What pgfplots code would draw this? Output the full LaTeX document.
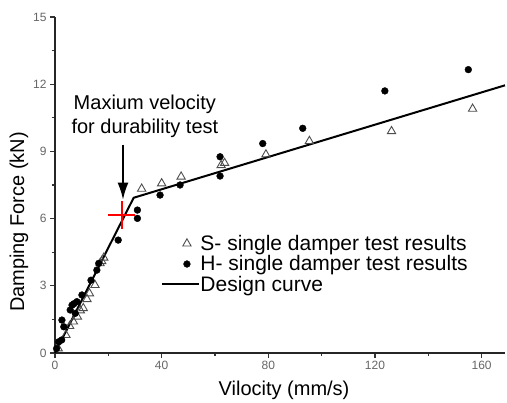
\documentclass[border=0pt]{standalone}
\usepackage{pgfplots}
\pgfplotsset{compat=1.18}
\usepackage{fontspec}
\setmainfont{Liberation Sans}
\usetikzlibrary{arrows.meta}
\begin{document}
\begin{tikzpicture}
\begin{axis}[
  at={(55pt,50pt)}, anchor=south west,
  scale only axis, width=450pt, height=336pt,
  xmin=0, xmax=168.75, ymin=0, ymax=15,
  axis x line=bottom, axis y line=left,
  axis line style={-, line width=1.2pt, black!85},
  xtick={0,40,80,120,160}, ytick={0,3,6,9,12,15},
  minor x tick num=1, minor y tick num=1,
  tick align=outside,
  major tick length=5pt, minor tick length=3pt,
  tick style={line width=1.1pt, black!80},
  /pgf/number format/assume math mode=true,
  ticklabel style={font=\fontsize{12}{14}\selectfont, text=black!60},
  xlabel={Vilocity (mm/s)}, ylabel={Damping Force (kN)},
  label style={font=\fontsize{20}{22}\selectfont},
  xlabel style={at={(axis description cs:0.509,-0.11)}, anchor=center},
  ylabel style={at={(axis description cs:-0.08,0.39)}, anchor=center},
  legend style={at={(axis description cs:0.235,0.357)}, anchor=north west,
    draw=none, fill=none, inner sep=0pt,
    font=\fontsize{21}{22}\selectfont, row sep=-0.3pt,
    nodes={inner xsep=0.5pt}},
  legend cell align=left,
  legend image code/.code={\draw[mark repeat=2,mark phase=2,#1] plot coordinates {(0pt,0pt)(25pt,0pt)(37pt,0pt)};},
  clip=false,
]
\addplot[only marks, mark=triangle, mark size=4.8pt, mark options={draw=black!70, line width=0.9pt, fill=white}] coordinates {
(1.2,0.2)(4.1,0.8)(5.5,1.2)(6.9,1.4)(8.4,1.62)(9.5,1.9)(10.6,2.0)(12.0,2.4)(12.9,2.66)(15,3.03)
(16.9,4.0)(17.5,4.1)(18.3,4.25)(32.5,7.33)(40,7.57)(47.3,7.87)(62.3,8.38)(63.6,8.48)
(79.1,8.86)(95.4,9.46)(126.2,9.9)(156.6,10.9)
};
\addlegendentry{S- single damper test results}
\addplot[only marks, mark=*, mark size=3.4pt, mark options={fill=black, draw=black}] coordinates {
(0.6,0.2)(1.4,0.5)(2.5,0.58)(3.3,1.17)(2.6,1.47)(5.7,1.92)(6.4,2.14)(7.1,2.2)(8.2,2.29)(7.6,1.77)
(10.1,2.59)(13.5,3.25)(15.7,3.7)(16.4,4.0)(23.7,5.04)(30.9,6.38)(30.9,6.01)
(39.4,7.05)(46.9,7.5)(61.9,8.76)(61.9,7.9)(77.9,9.35)(92.9,10.03)(123.7,11.7)(155,12.65)
};
\addlegendentry{H- single damper test results}
\addplot[black, line width=2pt] coordinates {(0,0)(29.5,6.93)(168.75,11.95)};
\addlegendentry{Design curve}
\draw[line width=1.6pt, -{Latex[length=17pt,width=11pt]}] (axis cs:25.5,9.3) -- (axis cs:25.5,6.85);
\addplot[red, line width=1.8pt, forget plot] coordinates {(20,6.17)(30,6.17)};
\addplot[red, line width=1.8pt, forget plot] coordinates {(25,5.55) (25,6.8)};
\node[align=center, font=\fontsize{20}{24}\selectfont] at (axis cs:33.7,10.55) {Maxium velocity\\for durability test};
\end{axis}
\pgfresetboundingbox
\path (0,0) rectangle (507pt,403pt);
\end{tikzpicture}
\end{document}
